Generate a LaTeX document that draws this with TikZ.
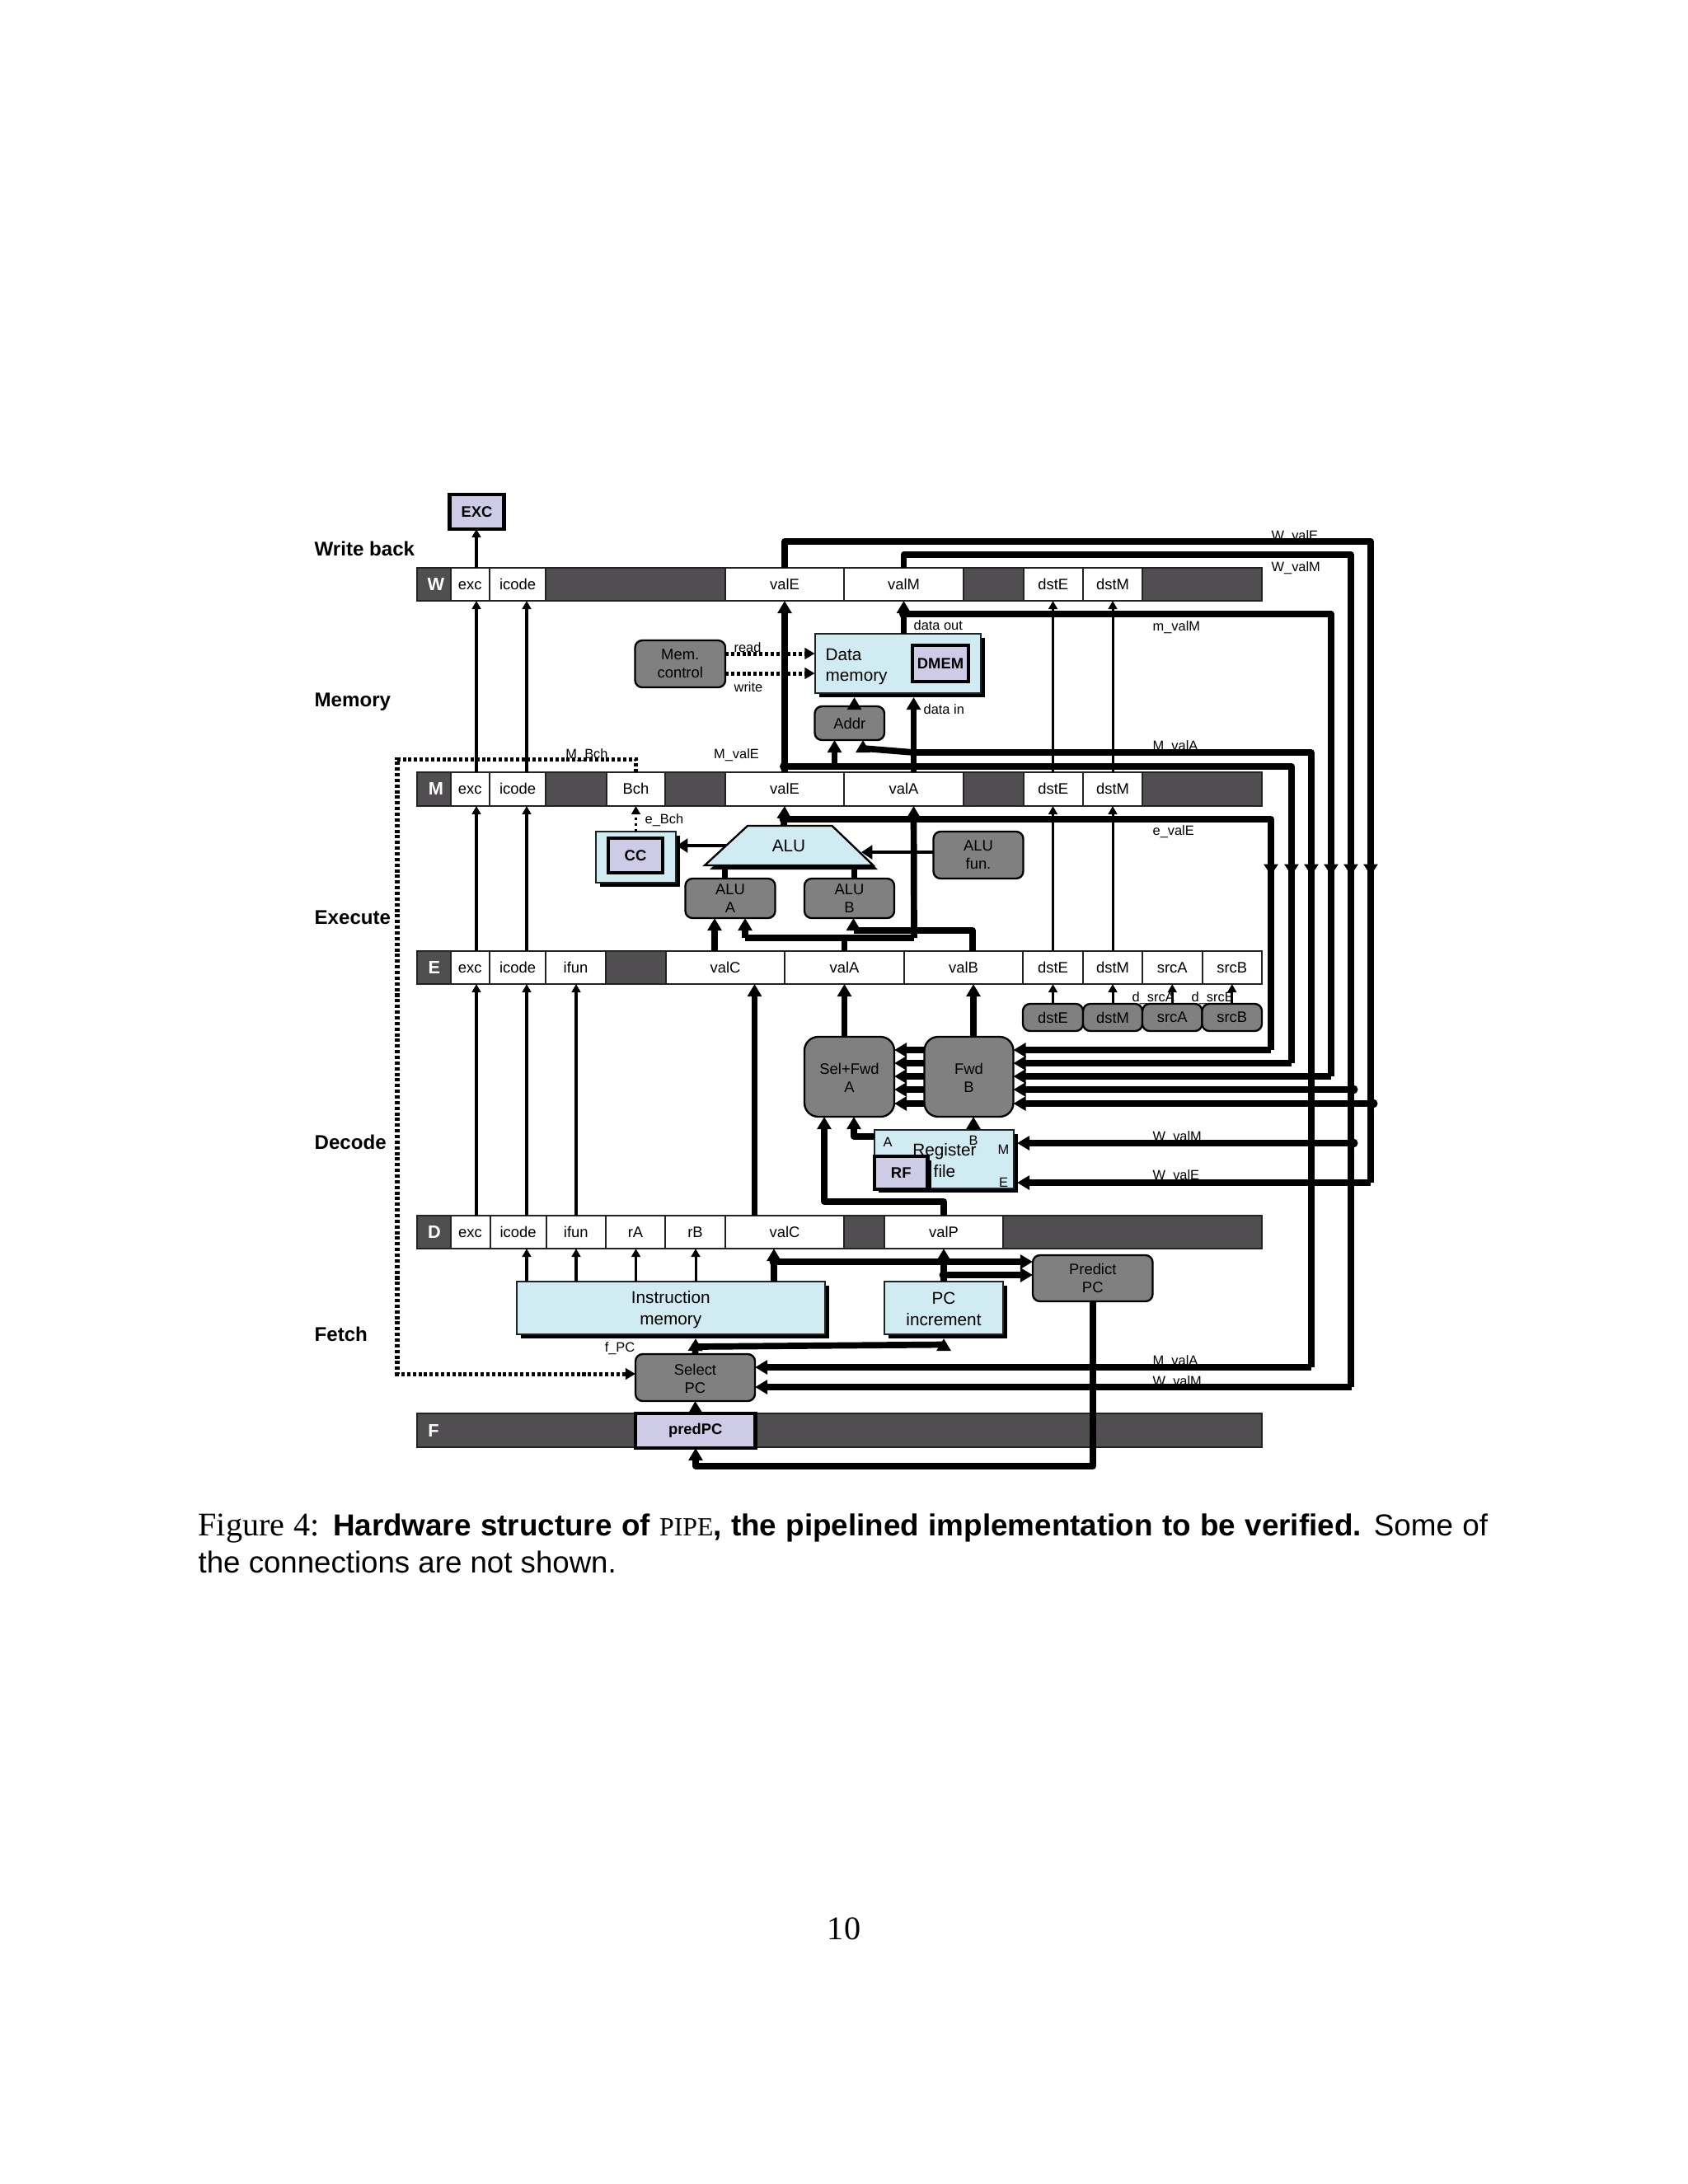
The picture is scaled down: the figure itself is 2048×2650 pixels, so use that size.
\documentclass[tikz,border=0pt]{standalone}
\usepackage{fontspec}
\setmainfont{Liberation Sans}
\newfontfamily\timesf{Liberation Serif}
\usetikzlibrary{arrows.meta,calc}
\definecolor{regdark}{HTML}{504E50}
\definecolor{memblue}{HTML}{D1EBF2}
\definecolor{lav}{HTML}{CECBE6}
\definecolor{logicgray}{HTML}{808080}
\definecolor{edge}{HTML}{222222}
\newcommand\flab{\fontsize{5.5}{6.7}\selectfont}
\newcommand\fbig{\fontsize{6.2}{7.7}\selectfont}
\newcommand\fsm{\fontsize{4.9}{6}\selectfont}
\newcommand\fstage{\fontsize{7.2}{8.5}\selectfont\bfseries}
\newcommand\fbld{\fontsize{5.5}{6.7}\selectfont\bfseries}
\newcommand\freg{\fontsize{6.5}{7.5}\selectfont\bfseries}
\newcommand\dn{\rule{0pt}{4.9pt}}
\newcommand\dnb{\rule{0pt}{5.8pt}}
% [style]{name}{x1}{y1}{x2}{y2}{text}
\newcommand\mybx[7][]{%
  \pgfmathsetlengthmacro\rwd{(#5-#3)*0.29883pt}%
  \pgfmathsetlengthmacro\rht{(#6-#4)*0.29883pt}%
  \node[#1,minimum width=\rwd,minimum height=\rht,inner sep=0pt,outer sep=0pt] (#2) at ({(#3+#5)/2},{(#4+#6)/2}) {#7};}
% same, with the black offset shadow behind it
\newcommand\shbx[7][]{%
  \fill[black] ({#3+5},{#4+5}) rectangle ({#5+5},{#6+5});%
  \mybx[#1]{#2}{#3}{#4}{#5}{#6}{#7}}
\tikzset{
  x=0.29883pt,y=-0.29883pt,
  regbar/.style={draw=edge,line width=.6pt,fill=regdark},
  cell/.style={draw=edge,line width=.6pt,fill=white,font=\flab,text height=4.7pt,text depth=1.1pt},
  reglet/.style={font=\freg,text=white,inner sep=0pt,text height=4.7pt,text depth=0pt},
  mem/.style={draw=edge,line width=.6pt,fill=memblue,font=\fbig,align=center},
  logic/.style={draw=black,line width=.7pt,fill=logicgray,rounded corners=2.6pt,font=\flab,align=center},
  logicb/.style={logic,rounded corners=5pt},
  state/.style={draw=black,line width=1.3pt,fill=lav,font=\fbld},
  lbl/.style={font=\fsm,inner sep=0pt},
  lblw/.style={lbl,anchor=west},
  stage/.style={font=\fstage,anchor=west,inner sep=0pt},
  wire/.style={line width=.9pt,-{Triangle[length=3pt,width=3.2pt]}},
  bus/.style={line width=2.3pt,line join=round},
  busT/.style={bus,-{Triangle[length=4.5pt,width=5pt]}},
  railT/.style={bus,-{Triangle[length=4pt,width=5pt]}},
  ctrl/.style={line width=1.5pt,dash pattern=on 1.2pt off .85pt},
  ctrlT/.style={ctrl,-{Triangle[length=3.6pt,width=4pt]}},
  dotj/.style={fill=black},
}
\begin{document}
\begin{tikzpicture}
\useasboundingbox (0,0) rectangle (2048,2650);
\fill[white] (0,0) rectangle (2048,2650);

% stage names
\node[stage] (sW) at (381,666) {Write back};
\node[stage] (sM) at (381,852) {Memory};
\node[stage] (sE) at (381,1113) {Execute};
\node[stage] (sD) at (381,1386) {Decode};
\node[stage] (sF) at (381,1619) {Fetch};

% pipeline registers
\mybx[regbar]{W}{506}{689}{1531}{729}{}
\node[reglet] (Wl) at (529,709) {W};
\mybx[cell]{Wexc}{546.5}{689}{594}{729}{exc}
\mybx[cell]{Wicode}{594}{689}{662}{729}{icode}
\mybx[cell]{WvalE}{880}{689}{1024}{729}{valE}
\mybx[cell]{WvalM}{1024}{689}{1169}{729}{valM}
\mybx[cell]{WdstE}{1241.5}{689}{1314}{729}{dstE}
\mybx[cell]{WdstM}{1314}{689}{1386}{729}{dstM}

\mybx[regbar]{M}{506}{937}{1531}{978}{}
\node[reglet] (Ml) at (529,957) {M};
\mybx[cell]{Mexc}{546.5}{937}{594}{978}{exc}
\mybx[cell]{Micode}{594}{937}{662}{978}{icode}
\mybx[cell]{MBch}{736}{937}{807}{978}{Bch}
\mybx[cell]{MvalE}{880}{937}{1024}{978}{valE}
\mybx[cell]{MvalA}{1024}{937}{1169}{978}{valA}
\mybx[cell]{MdstE}{1241.5}{937}{1314}{978}{dstE}
\mybx[cell]{MdstM}{1314}{937}{1386}{978}{dstM}

\mybx[regbar]{E}{506}{1154}{1531}{1194}{}
\node[reglet] (El) at (527,1174) {E};
\mybx[cell]{Eexc}{546.5}{1154}{594}{1194}{exc}
\mybx[cell]{Eicode}{594}{1154}{662}{1194}{icode}
\mybx[cell]{Eifun}{662}{1154}{735}{1194}{ifun}
\mybx[cell]{EvalC}{808}{1154}{952}{1194}{valC}
\mybx[cell]{EvalA}{952}{1154}{1097}{1194}{valA}
\mybx[cell]{EvalB}{1097}{1154}{1241}{1194}{valB}
\mybx[cell]{EdstE}{1241}{1154}{1314}{1194}{dstE}
\mybx[cell]{EdstM}{1314}{1154}{1386}{1194}{dstM}
\mybx[cell]{EsrcA}{1386}{1154}{1458.5}{1194}{srcA}
\mybx[cell]{EsrcB}{1458.5}{1154}{1531}{1194}{srcB}

\mybx[regbar]{D}{506}{1475}{1531}{1515}{}
\node[reglet] (Dl) at (527,1495) {D};
\mybx[cell]{Dexc}{546.5}{1475}{594.5}{1515}{exc}
\mybx[cell]{Dicode}{594.5}{1475}{662.5}{1515}{icode}
\mybx[cell]{Difun}{662.5}{1475}{735}{1515}{ifun}
\mybx[cell]{DrA}{735}{1475}{807}{1515}{rA}
\mybx[cell]{DrB}{807}{1475}{880}{1515}{rB}
\mybx[cell]{DvalC}{880}{1475}{1024}{1515}{valC}
\mybx[cell]{DvalP}{1073}{1475}{1217}{1515}{valP}

\mybx[regbar]{F}{506}{1715}{1531}{1756}{}
\node[reglet] (Fl) at (526,1736) {F};
\mybx[state]{predPC}{771}{1715}{916.5}{1757}{predPC}

% state and memories
\mybx[state]{EXC}{545.5}{600}{611.5}{642}{EXC}
\shbx[mem]{dmem}{988.5}{769}{1190}{841}{}
\node[font=\fbig,align=left,anchor=west,inner sep=0pt] (dmtxt) at (1001,809) {Data\\memory};
\mybx[state]{DMEM}{1107}{783}{1175}{827}{DMEM}
\shbx[mem]{cc}{723}{1009}{820}{1071}{}
\mybx[state]{CC}{738}{1017}{804}{1059}{CC}
\shbx[mem]{regf}{1061}{1371}{1229.5}{1442}{}
\node[font=\fbig,align=center,inner sep=0pt] (rftxt) at (1146,1408) {Register\\file};
\fill[black] (1066,1408) rectangle (1130,1447);
\mybx[state]{RF}{1061}{1403}{1125.5}{1443}{RF}
\shbx[mem]{imem}{627}{1555}{1000.5}{1619}{\dnb Instruction\\memory}
\shbx[mem]{pcinc}{1073}{1555}{1217}{1619}{\rule{0pt}{5.2pt}PC\\increment}

% ALU
\fill[black] (913,1007) -- (1015,1007) -- (1065,1055) -- (861,1055) -- cycle;
\filldraw[fill=memblue,draw=black,line width=.7pt] (907,1002) -- (1009.5,1002) -- (1059.5,1050) -- (855,1050) -- cycle;
\node[font=\fbig,inner sep=0pt] (alu) at (957,1026) {ALU};

% combinational blocks
\mybx[logic]{memctl}{770.5}{777}{880}{834}{Mem.\\control}
\mybx[logic]{addr}{988.5}{857}{1073}{898}{Addr}
\mybx[logic]{alufun}{1132.5}{1009}{1241.5}{1066}{ALU\\fun.}
\mybx[logic]{aluA}{831.5}{1066}{940.5}{1114}{ALU\\A}
\mybx[logic]{aluB}{976}{1066}{1085}{1114}{ALU\\B}
\mybx[logicb]{selA}{976}{1258}{1085}{1355}{\dn Sel+Fwd\\A}
\mybx[logicb]{fwdB}{1121.5}{1258}{1229.5}{1355}{\dn Fwd\\B}
\mybx[logic]{ddstE}{1241}{1218}{1314}{1251}{dstE}
\mybx[logic]{ddstM}{1314}{1218}{1386}{1251}{dstM}
\mybx[logic]{dsrcA}{1386}{1218}{1458.5}{1251}{srcA}
\mybx[logic]{dsrcB}{1458.5}{1218}{1531}{1251}{srcB}
\mybx[logic]{predict}{1253}{1523}{1398.5}{1579}{Predict\\PC}
\mybx[logic]{selPC}{771}{1643}{916}{1700}{\dn Select\\PC}

% signal labels (they lie under the wires)
\node[lbl] (lMBch) at (712,916) {M\_Bch};
\node[lbl] (lMvalE) at (893.5,916) {M\_valE};
\node[lbl] (lread) at (907,786) {read};
\node[lbl] (lwrite) at (908,834) {write};
\node[lblw] (ldout) at (1108,759) {data out};
\node[lblw] (ldin) at (1120,861) {data in};
\node[lblw] (lebch) at (782,995.5) {e\_Bch};
\node[lblw] (lWvalE) at (1542,651) {W\_valE};
\node[lblw] (lWvalM) at (1542,689.5) {W\_valM};
\node[lblw] (lmvalM) at (1398,761) {m\_valM};
\node[lblw] (lMvalA) at (1398,906) {M\_valA};
\node[lblw] (levalE) at (1398,1009.5) {e\_valE};
\node[lblw] (ldsrcA) at (1373,1211) {d\_srcA};
\node[lblw] (ldsrcB) at (1445,1211) {d\_srcB};
\node[lblw] (lWM2) at (1398,1380) {W\_valM};
\node[lblw] (lWE2) at (1398,1427) {W\_valE};
\node[lblw] (lMA2) at (1398,1652) {M\_valA};
\node[lblw] (lWM3) at (1398,1677) {W\_valM};
\node[lbl] (lfpc) at (752,1636) {f\_PC};
\node[lbl] (lrA) at (1077,1386) {A};
\node[lbl] (lrB) at (1181,1384) {B};
\node[lbl] (lrM) at (1217.5,1395) {M};
\node[lbl] (lrE) at (1217.5,1435) {E};

% named guide coordinates
\coordinate (xexc) at (578,0);
\coordinate (xicode) at (639,0);
\coordinate (xifun) at (699,0);
\coordinate (xrA) at (771.5,0);
\coordinate (xrB) at (844,0);
\coordinate (xdstE) at (1277.5,0);
\coordinate (xdstM) at (1350,0);
\coordinate (xMa) at (1108.5,0);
\coordinate (xPC) at (1145,0);
\coordinate (xIC) at (939,0);
\coordinate (cWe) at (1663,657);
\coordinate (cWm) at (1639,673);
\coordinate (cmm) at (1615,745);
\coordinate (cMa) at (1591,913);
\coordinate (cMe) at (1567,930);
\coordinate (cee) at (1542,994);
\coordinate (tipy) at (0,1060);
\coordinate (fa) at (1542,1274);
\coordinate (fb) at (1567,1290);
\coordinate (fc) at (1615,1306);
\coordinate (fd) at (1639,1322);
\coordinate (fe) at (1663,1339);
\coordinate (rfM) at (1234,1387);
\coordinate (rfE) at (1234,1435);
\coordinate (tMv) at (1639,1387);
\coordinate (tEv) at (1663,1435);
\coordinate (sa) at (1591,1659);
\coordinate (sb) at (1640,1683);
\coordinate (jMe) at (951.5,930);
\coordinate (jMa) at (1108.5,913);
\coordinate (jm) at (1096.5,745);
\coordinate (je) at (951,994);
\coordinate (jAa) at (904,1138);
\coordinate (jAr) at (1109,1138);
\coordinate (jBa) at (1035.5,1129);
\coordinate (jBr) at (1180,1129);
\coordinate (slant) at (1047,908);
\coordinate (slantb) at (1047,913);
\coordinate (addrtip) at (1047,898);
\coordinate (dintip) at (1108.5,846);
\coordinate (addrin) at (1012.5,930);
\coordinate (addrout) at (1036.5,857);
\coordinate (addrouttip) at (1036.5,846);
\coordinate (alutop) at (951,1002);
\coordinate (aluctip) at (821,1026);
\coordinate (alucs) at (881,1026);
\coordinate (alufs) at (1132.5,1034);
\coordinate (aluft) at (1045,1034);
\coordinate (aA) at (879.4,1066);
\coordinate (aAt) at (879.4,1052);
\coordinate (aB) at (1036.5,1066);
\coordinate (aBt) at (1036.5,1052);
\coordinate (xvalC) at (867,0);
\coordinate (xB) at (1181,0);
\coordinate (xDC) at (915.5,0);
\coordinate (pcj) at (844,1634);
\coordinate (pcs) at (1145,1631.5);
\coordinate (pcb) at (1145,1639);
\coordinate (pcn) at (1145,1624);
\coordinate (imtip) at (844,1624);
\coordinate (j1) at (939,1531);
\coordinate (j2) at (1145,1547);
\coordinate (pp) at (1326,1779);
\coordinate (pq) at (844,1779);
\coordinate (va) at (1000,1458);
\coordinate (ra) at (1036,1379);
\coordinate (dl) at (482,921);
\coordinate (dt) at (771.5,921);
\coordinate (db) at (482,1667);
\coordinate (rd) at (880,793);
\coordinate (wr) at (880,817);

% thin vertical wires
\foreach \a/\b/\c in {Mexc/Wexc/xexc,Micode/Wicode/xicode,Eexc/Mexc/xexc,Eicode/Micode/xicode,Dexc/Eexc/xexc,Dicode/Eicode/xicode,Difun/Eifun/xifun,MdstE/WdstE/xdstE,MdstM/WdstM/xdstM,EdstE/MdstE/xdstE,EdstM/MdstM/xdstM}
  \draw[wire] (\a.north -| \c) -- (\b.south -| \c);
\draw[wire] (Wexc.north -| xexc) -- (EXC.south -| xexc);
\foreach \c/\b in {xicode/Dicode,xifun/Difun,xrA/DrA,xrB/DrB}
  \draw[wire] (imem.north -| \c) -- (\b.south -| \c);
\draw[wire] (ddstE.north) -- (EdstE.south);
\draw[wire] (ddstM.north) -- (EdstM.south);
\draw[wire] (dsrcA.north) -- (EsrcA.south);
\draw[wire] (dsrcB.north) -- (EsrcB.south);
\draw[line width=1pt,-{Triangle[length=4pt,width=5pt]}] (alufs) -- (aluft);
\draw[line width=1.1pt,-{Triangle[length=4pt,width=5pt]}] (alucs) -- (aluctip);

% dotted control lines
\draw[ctrlT] (rd) -- (dmem.west |- rd);
\draw[ctrlT] (wr) -- (dmem.west |- wr);
\draw[ctrlT] (MBch.north) -- (dt) -- (dl) -- (db) -- (selPC.west |- db);
\draw[line width=.9pt,dash pattern=on 1pt off 1.1pt,-{Triangle[length=3pt,width=3.2pt]}] (cc.north) -- (cc.north |- MBch.south);

% result buses and the rails on the right
\draw[busT] (MvalE.north) -- (WvalE.south);
\draw[bus] (WvalE.north) |- (cWe) -- (cWe |- tipy);
\draw[bus] (WvalM.north) |- (cWm) -- (cWm |- tipy);
\draw[busT] (dmem.north -| WvalM) -- (WvalM.south);
\draw[bus] (jm) -- (cmm) -- (cmm |- tipy);
\draw[bus] (cMa |- tipy) -- (cMa) -- (jMa) -- (slant);
\draw[busT] (slantb) -- (addrtip);
\draw[bus] (jMe) -- (cMe) -- (cMe |- tipy);
\draw[bus] (je) -- (cee) -- (cee |- tipy);
\foreach \c in {cee,cMe,cMa,cmm,cWm,cWe}
  \draw[railT] ($(\c |- tipy)+(0,-12)$) -- ($(\c |- tipy)+(0,2)$);
\draw[busT] (xMa |- MvalA.north) -- (dintip);
\draw[busT] (addrin) -- (addr.south -| addrin);
\draw[busT] (addrout) -- (addrouttip);
\draw[busT] (alutop) -- (MvalE.south);

% ALU inputs
\draw[bus] (aA) -- (aAt);
\draw[bus] (aB) -- (aBt);
\draw[busT] (EvalC.north -| xvalC) -- (aluA.south -| xvalC);
\draw[busT] (jAa) -- (aluA.south -| jAa);
\draw[bus] (jAa) -- (jAr);
\draw[bus] (EvalA.north) -- (EvalA.north |- jAr);
\draw[busT] (jAr) -- (xMa |- MvalA.south);
\draw[busT] (jBa) -- (aluB.south -| jBa);
\draw[bus] (jBa) -- (jBr) -- (EvalB.north -| jBr);

% forwarding
\draw[bus] (cee |- tipy) -- (fa);
\draw[bus] (cMe |- tipy) -- (fb);
\draw[bus] (cmm |- tipy) -- (fc);
\draw[bus] (cWm |- tipy) -- (tMv) -- (cWm |- sb);
\draw[bus] (cWe |- tipy) -- (tEv);
\draw[bus] (cMa |- tipy) -- (sa);
\foreach \p in {fa,fb,fc,fd,fe}{
  \draw[busT] (\p) -- (fwdB.east |- \p);
  \draw[busT] (fwdB.west |- \p) -- (selA.east |- \p);
}
\draw[busT] (selA.north -| EvalA) -- (EvalA.south);
\draw[busT] (fwdB.north -| xB) -- (EvalB.south -| xB);
\draw[busT] (DvalC.north -| xDC) -- (EvalC.south -| xDC);
\draw[busT] (regf.north -| xB) -- (fwdB.south -| xB);
\draw[busT] (regf.west |- ra) -| (selA.south -| ra);
\draw[busT] (DvalP.north) |- (va) -- (selA.south -| va);
\draw[busT] (tMv) -- (rfM);
\draw[busT] (tEv) -- (rfE);
\draw[busT] (sa) -- (selPC.east |- sa);
\draw[busT] (sb) -- (selPC.east |- sb);

% fetch
\draw[busT] (imem.north -| xIC) -- (DvalC.south -| xIC);
\draw[busT] (pcinc.north -| xPC) -- (DvalP.south -| xPC);
\draw[busT] (j1) -- (predict.west |- j1);
\draw[busT] (j2) -- (predict.west |- j2);
\draw[busT] (predict.south -| pp) -- (pp) -- (pq) -- (predPC.south -| pq);
\draw[busT] (predPC.north) -- (selPC.south);
\draw[busT] (selPC.north) -- (imtip);
\draw[bus] (pcj) -- (pcs);
\draw[busT] (pcb) -- (pcn);

% junction dots
\foreach \p in {jMe,jm,je,j1,j2,pcj}
  \fill[dotj] (\p) circle (5.5);
\fill[dotj] (1642,1322) circle (5.5);
\fill[dotj] (1642,1387) circle (5.5);
\fill[dotj] (1666,1339) circle (5.5);

% caption and page number
\node[anchor=base west,inner sep=0pt] (cap1) at (240,1863) {\hbox to 467.5pt{\timesf\fontsize{12}{14}\selectfont Figure 4:\hspace{4.8pt}{\fontspec{Liberation Sans}\fontsize{11}{13}\selectfont\bfseries Hardware structure of} {\fontsize{9.5}{11}\selectfont PIPE}{\fontspec{Liberation Sans}\fontsize{11}{13}\selectfont\bfseries, the pipelined implementation to be verified.\hspace{4.5pt}\mdseries Some of}}};
\node[anchor=base west,inner sep=0pt] (cap2) at (240,1908) {\fontsize{10.95}{13}\selectfont the connections are not shown.};
\node[inner sep=0pt] (pageno) at (1024,2340) {\timesf\fontsize{12}{14}\selectfont 10};
\end{tikzpicture}
\end{document}
